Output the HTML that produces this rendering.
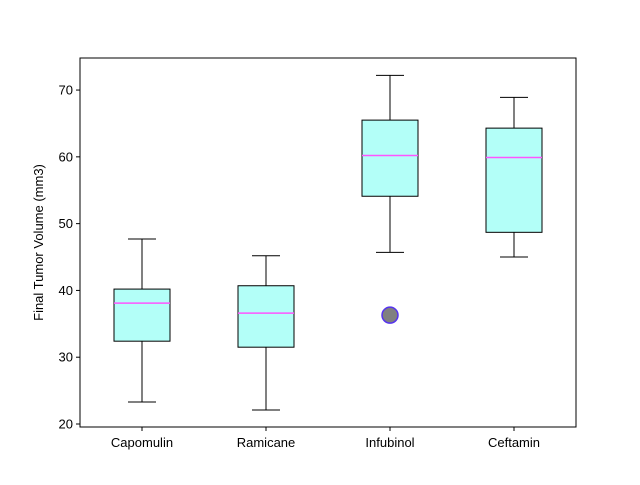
<!DOCTYPE html>
<html><head><meta charset="utf-8"><style>
body{margin:0;background:#fff}
text{font-family:"Liberation Sans","DejaVu Sans",sans-serif;font-size:13px;fill:#000}
</style></head><body>
<svg id="chart" width="640" height="480">
<rect x="0" y="0" width="640" height="480" fill="#fff"/>
</svg>
<script>
const categories=["Capomulin","Ramicane","Infubinol","Ceftamin"];
const whiskerLow=[23.3,22.1,45.7,45.0];
const q1=[32.4,31.5,54.1,48.7];
const medians=[38.1,36.6,60.2,59.9];
const q3=[40.2,40.7,65.5,64.3];
const whiskerHigh=[47.7,45.2,72.2,68.9];
const outliers=[[],[],[36.3],[]];
const yTicks=[20,30,40,50,60,70];

const L=80,R=576,T=58,B=427,yMin=19.55,yMax=74.8;
const svg=document.getElementById('chart');
const NS='http://www.w3.org/2000/svg';
function y(v){return B-(v-yMin)/(yMax-yMin)*(B-T);}
function x(i){return L+(i+0.5)*(R-L)/categories.length;}
function mk(tag,attrs){const e=document.createElementNS(NS,tag);for(const k in attrs)e.setAttribute(k,attrs[k]);svg.appendChild(e);return e;}
const bw=56,cw=28;
categories.forEach((c,i)=>{
  const cx=x(i);
  let e=mk('line',{x1:cx,x2:cx,y1:y(whiskerLow[i]),y2:y(q1[i]),stroke:'#000','stroke-width':1});
  
  
  e=mk('line',{x1:cx,x2:cx,y1:y(q3[i]),y2:y(whiskerHigh[i]),stroke:'#000','stroke-width':1});
  
  
  e=mk('line',{x1:cx-cw/2,x2:cx+cw/2,y1:y(whiskerLow[i]),y2:y(whiskerLow[i]),stroke:'#000','stroke-width':1});
  
  
  e=mk('line',{x1:cx-cw/2,x2:cx+cw/2,y1:y(whiskerHigh[i]),y2:y(whiskerHigh[i]),stroke:'#000','stroke-width':1});
  
  
  e=mk('rect',{x:cx-bw/2,y:y(q3[i]),width:bw,height:y(q1[i])-y(q3[i]),fill:'#b3fff8',stroke:'#000','stroke-width':1});
  
  
  e=mk('line',{x1:cx-bw/2,x2:cx+bw/2,y1:y(medians[i]),y2:y(medians[i]),stroke:'#ff55ff','stroke-width':1.5});
  
  
  outliers[i].forEach(v=>{
    const o=mk('circle',{cx:cx,cy:y(v),r:8,fill:'#808080',stroke:'#5533ee','stroke-width':1.5});
    
    
  });
  const t=mk('text',{x:cx,y:B+20,'text-anchor':'middle'});t.textContent=c;
  
  
  const tk=mk('line',{x1:cx,x2:cx,y1:B,y2:B+4,stroke:'#000'});
  
  
});
yTicks.forEach(v=>{
  const tk=mk('line',{x1:L-4,x2:L,y1:y(v),y2:y(v),stroke:'#000'});
  
  
  const t=mk('text',{x:L-7,y:y(v)+4.5,'text-anchor':'end'});t.textContent=v;
  
  
});
const frame=mk('rect',{x:L,y:T,width:R-L,height:B-T,fill:'none',stroke:'#000','stroke-width':1});


const yt=mk('text',{x:0,y:0,'text-anchor':'middle',transform:'translate(43,'+((T+B)/2)+') rotate(-90)'});
yt.textContent='Final Tumor Volume (mm3)';


</script>
</body></html>
